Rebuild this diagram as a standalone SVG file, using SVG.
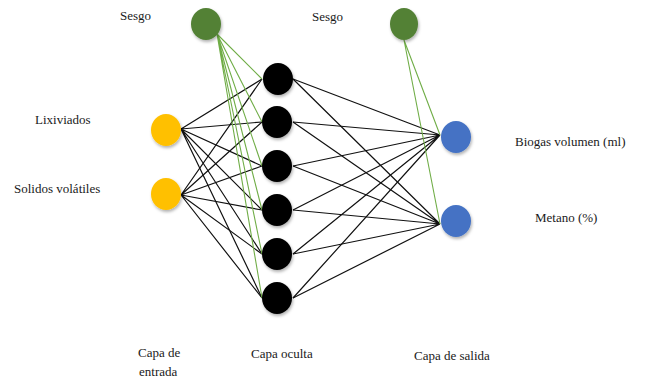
<svg xmlns="http://www.w3.org/2000/svg" width="647" height="380" viewBox="0 0 647 380">
<defs>
<filter id="sh" x="-40%" y="-40%" width="180%" height="180%">
<feDropShadow dx="1" dy="2" stdDeviation="1.5" flood-color="#000" flood-opacity="0.3"/>
</filter>
</defs>
<style>
text{font-family:"Liberation Serif","DejaVu Serif",serif;font-size:13px;fill:#1a1a1a}
.e{stroke:#111;stroke-width:1.2;fill:none}
.g{stroke:#70ad47;stroke-width:1.1;fill:none}
.n{filter:url(#sh)}
</style>
<rect width="647" height="380" fill="#fff"/>
<g id="connectors">
<g>
<path class="e" d="M181,129L262,79M181,129L262,122M181,129L262,166M181,129L262,210M181,129L262,254M181,129L262,298"/>
<path class="e" d="M181,195L262,79M181,195L262,122M181,195L262,166M181,195L262,210M181,195L262,254M181,195L262,298"/>
<path class="e" d="M293,79L440,135M293,122L440,135M293,166L440,135M293,210L440,135M293,254L440,135M293,298L440,135"/>
<path class="e" d="M293,79L440,224M293,122L440,224M293,166L440,224M293,210L440,224M293,254L440,224M293,298L440,224"/>
</g>
<g>
<path class="g" d="M217,34L262,79M217,34L262,122M217,34L262,166M217,34L262,210M217,34L262,254M217,34L262,298"/>
<path class="g" d="M404,40L440,135M404,40L440,224"/>
</g>
</g>
<g id="bias1"><ellipse class="n" cx="206" cy="24" rx="15" ry="16" fill="#538135"/></g>
<g id="bias2"><ellipse class="n" cx="404" cy="24" rx="14" ry="16" fill="#538135"/></g>
<g id="in1"><ellipse class="n" cx="166" cy="130" rx="15" ry="16" fill="#ffc000"/></g>
<g id="in2"><ellipse class="n" cx="166" cy="194" rx="15" ry="16" fill="#ffc000"/></g>
<g id="h1"><ellipse class="n" cx="278" cy="79" rx="15" ry="16" fill="#000"/></g>
<g id="h2"><ellipse class="n" cx="277" cy="122" rx="15" ry="16" fill="#000"/></g>
<g id="h3"><ellipse class="n" cx="277" cy="166" rx="15" ry="16" fill="#000"/></g>
<g id="h4"><ellipse class="n" cx="277" cy="210" rx="15" ry="16" fill="#000"/></g>
<g id="h5"><ellipse class="n" cx="277" cy="254" rx="15" ry="16" fill="#000"/></g>
<g id="h6"><ellipse class="n" cx="277" cy="298" rx="15" ry="16" fill="#000"/></g>
<g id="out1"><ellipse class="n" cx="456" cy="137" rx="15" ry="16" fill="#4472c4"/></g>
<g id="out2"><ellipse class="n" cx="456" cy="221" rx="15" ry="16" fill="#4472c4"/></g>
<g id="labels">
<text x="120" y="20">Sesgo</text>
<text x="312" y="21">Sesgo</text>
<text x="35" y="124">Lixiviados</text>
<text x="14" y="193">Solidos volátiles</text>
<text x="515" y="146">Biogas volumen (ml)</text>
<text x="535" y="222">Metano (%)</text>
<text x="138" y="357">Capa de</text>
<text x="139" y="376">entrada</text>
<text x="251" y="358">Capa oculta</text>
<text x="414" y="360">Capa de salida</text>
</g>
</svg>
